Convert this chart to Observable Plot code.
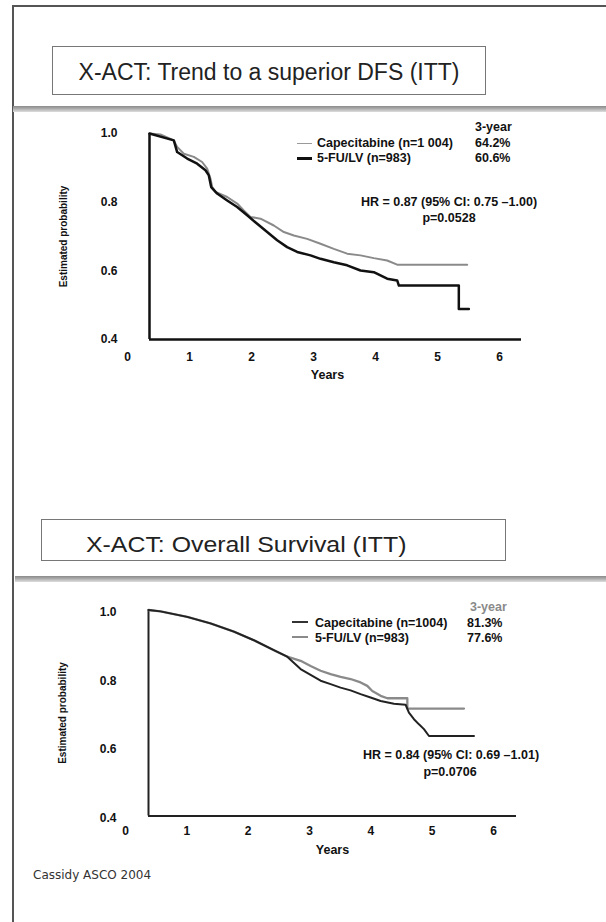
<!DOCTYPE html>
<html>
<head>
<meta charset="utf-8">
<script src="https://cdn.jsdelivr.net/npm/d3@7"></script>
<script src="https://cdn.jsdelivr.net/npm/@observablehq/plot@0.6"></script>
<style>
  html, body { margin: 0; padding: 0; background: #fff; }
  #page { position: relative; width: 606px; height: 922px; overflow: hidden; background: #fff;
          font-family: "Liberation Sans", Arial, sans-serif; color: #111; }
  .abs { position: absolute; }
  .t { position: absolute; white-space: nowrap; line-height: 1; }
  svg { position: absolute; left: 0; }
</style>
</head>
<body>
<div id="page"></div>
<script>
// ---------- DATA ----------
const xTicks = [0, 1, 2, 3, 4, 5, 6];
const yTicks = [0.4, 0.6, 0.8, 1.0];

// Chart 1: Disease-free survival
const dfsTitle = "X-ACT: Trend to a superior DFS (ITT)";
const dfsSeries = ["Capecitabine  (n=1 004)", "5-FU/LV (n=983)"];
const dfsThreeYear = ["64.2%", "60.6%"];
const dfsHR = "HR = 0.87 (95% CI: 0.75  \u20131.00)";
const dfsP = "p=0.0528";
const dfsCapT = [0, 0.177, 0.392, 0.446, 0.554, 0.715, 0.849, 0.930, 0.984, 1.011, 1.065, 1.253, 1.414, 1.521, 1.629, 1.790, 2.005, 2.167, 2.328, 2.543, 2.758, 2.973, 3.188, 3.403, 3.618, 3.833, 3.995, 5.124];
const dfsCapS = [1.0, 0.997, 0.980, 0.961, 0.941, 0.932, 0.917, 0.898, 0.868, 0.844, 0.830, 0.815, 0.796, 0.776, 0.757, 0.752, 0.732, 0.713, 0.703, 0.693, 0.679, 0.664, 0.650, 0.645, 0.637, 0.630, 0.618, 0.618];
const dfsFuT = [0, 0.392, 0.446, 0.608, 0.769, 0.903, 0.957, 0.995, 1.091, 1.253, 1.414, 1.575, 1.737, 1.898, 2.059, 2.220, 2.382, 2.597, 2.758, 2.973, 3.188, 3.403, 3.618, 3.833, 3.995, 4.022, 4.989, 4.989, 5.151];
const dfsFuS = [1.0, 0.980, 0.946, 0.927, 0.912, 0.893, 0.878, 0.844, 0.825, 0.805, 0.786, 0.762, 0.737, 0.713, 0.689, 0.669, 0.655, 0.645, 0.635, 0.625, 0.616, 0.601, 0.596, 0.577, 0.572, 0.557, 0.557, 0.489, 0.489];

// Chart 2: Overall survival
const osTitle = "X-ACT: Overall Survival (ITT)";
const osSeries = ["Capecitabine  (n=1004)", "5-FU/LV (n=983)"];
const osThreeYear = ["81.3%", "77.6%"];
const osHR = "HR = 0.84 (95% CI: 0.69 \u20131.01)";
const osP = "p=0.0706";
const osCapT = [0, 0.196, 0.631, 1.010, 1.392, 1.718, 2.044, 2.262, 2.480, 2.643, 2.806, 2.969, 3.132, 3.295, 3.458, 3.567, 3.649, 3.785, 3.894, 4.220, 4.220, 5.144];
const osCapS = [1.0, 0.996, 0.980, 0.961, 0.937, 0.912, 0.883, 0.864, 0.852, 0.837, 0.823, 0.813, 0.805, 0.799, 0.789, 0.779, 0.764, 0.750, 0.743, 0.743, 0.713, 0.713];
const osFuT = [0, 0.196, 0.631, 1.010, 1.392, 1.718, 2.044, 2.262, 2.480, 2.643, 2.806, 2.969, 3.132, 3.295, 3.458, 3.621, 3.785, 4.002, 4.192, 4.246, 4.328, 4.410, 4.491, 4.573, 5.307];
const osFuS = [1.0, 0.996, 0.980, 0.961, 0.937, 0.912, 0.883, 0.864, 0.828, 0.811, 0.794, 0.784, 0.774, 0.766, 0.755, 0.745, 0.735, 0.727, 0.724, 0.701, 0.682, 0.667, 0.653, 0.633, 0.633];

const yLabel = "Estimated probability";
const xLabel = "Years";
const threeYearHead = "3-year";
const caption = "Cassidy ASCO 2004";

// ---------- HELPERS ----------
const page = document.getElementById("page");
const zip = (ts, ss) => ts.map((t, i) => ({t, s: ss[i]}));

function box(left, top, width, height, css) {
  const d = document.createElement("div");
  d.className = "abs";
  d.style.cssText += `left:${left}px;top:${top}px;width:${width}px;height:${height}px;${css || ""}`;
  page.appendChild(d);
  return d;
}
function text(str, x, yc, size, opts = {}) {
  const d = document.createElement("div");
  d.className = "t";
  d.textContent = str;
  const anchor = opts.anchor || "start";
  let css = `top:${yc - 0.49 * size}px;font-size:${size}px;font-weight:${opts.weight || "bold"};color:${opts.color || "#111"};`;
  if (opts.family) css += `font-family:${opts.family};`;
  if (anchor === "middle") css += `left:${x}px;transform:translateX(-50%)${opts.sx ? ` scaleX(${opts.sx})` : ""};`;
  else css += `left:${x}px;${opts.sx ? `transform:scaleX(${opts.sx});transform-origin:0 50%;` : ""}`;
  d.style.cssText += css;
  page.appendChild(d);
  return d;
}

const plotStyle = {fontFamily: "'Liberation Sans', Arial, sans-serif", fontSize: "12px", color: "#111", background: "transparent", overflow: "visible"};

function kmChart({top, marginLeft, marginRight, marginTop, marginBottom, tickDx, yDy, xPad, capData, fuData, capStyle, fuStyle, axisColor, axisWidth, xLabelDx, xLabelDy}) {
  const chart = Plot.plot({
    width: 606, height: 300,
    marginLeft, marginRight, marginTop, marginBottom,
    x: {domain: [0, 6]},
    y: {domain: [0.4, 1.0]},
    style: plotStyle,
    marks: [
      Plot.axisY({ticks: yTicks, tickSize: 0, tickPadding: 32, tickFormat: d3.format(".1f"), fontWeight: "bold", fontSize: 12, dy: yDy, label: null}),
      Plot.axisX({ticks: xTicks, tickSize: 0, tickPadding: xPad, tickFormat: d3.format("d"), dx: tickDx, fontWeight: "bold", fontSize: 12, label: null}),
      Plot.ruleX([0], {y1: 0.4, y2: 1.0, stroke: axisColor, strokeWidth: axisWidth}),
      Plot.ruleY([0.4], {x1: 0, x2: 6, stroke: axisColor, strokeWidth: axisWidth}),
      Plot.line(capData, {x: "t", y: "s", ...capStyle}),
      Plot.line(fuData, {x: "t", y: "s", ...fuStyle}),
      Plot.text([xLabel], {text: d => d, frameAnchor: "bottom", textAnchor: "middle", lineAnchor: "middle", dx: xLabelDx, dy: xLabelDy, fontWeight: "bold", fontSize: 12.5}),
      Plot.text([yLabel], {text: d => d, frameAnchor: "left", textAnchor: "middle", lineAnchor: "middle", rotate: -90, dx: -86, fontWeight: "bold", fontSize: 10})
    ]
  });
  chart.style.top = top + "px";
  page.appendChild(chart);
}

// ---------- FRAME ----------
box(12, 5, 594, 2, "background:#555;");
box(12, 5, 2, 917, "background:#555;");
box(13, 106, 593, 6, "background:linear-gradient(#8a8a8a,#a8a8a8 40%,#dedede);");
box(15, 576, 591, 6, "background:linear-gradient(#8a8a8a,#a8a8a8 40%,#dedede);");

// Title boxes
box(52, 46, 432, 47, "border:1.5px solid #777;");
text(dfsTitle, 269, 72, 23, {anchor: "middle", weight: "normal", color: "#222"});
box(41, 519, 463, 40, "border:1.5px solid #777;");
text(osTitle, 86, 545, 22, {weight: "normal", color: "#222", sx: 1.13});

// ---------- CHART 1 ----------
kmChart({
  top: 100, marginLeft: 149, marginRight: 85, marginTop: 33, marginBottom: 61,
  tickDx: -22, yDy: 0, xPad: 13,
  capData: zip(dfsCapT, dfsCapS), fuData: zip(dfsFuT, dfsFuS),
  capStyle: {stroke: "#8a8a8a", strokeWidth: 2},
  fuStyle: {stroke: "#111", strokeWidth: 2.5},
  axisColor: "#111", axisWidth: 2.5, xLabelDx: -8, xLabelDy: 35
});
// legend chart 1
text(threeYearHead, 475, 127, 12.5);
box(297, 142.5, 15, 1.5, "background:#9a9a9a;");
box(297, 157.3, 15, 2.5, "background:#111;");
text(dfsSeries[0], 317, 143.3, 12.5);
text(dfsSeries[1], 317, 158.5, 12.5);
text(dfsThreeYear[0], 475, 143.3, 12.5);
text(dfsThreeYear[1], 475, 158.5, 12.5);
text(dfsHR, 449, 201.7, 12.5, {anchor: "middle"});
text(dfsP, 449, 218.3, 12.5, {anchor: "middle"});

// ---------- CHART 2 ----------
kmChart({
  top: 580, marginLeft: 148, marginRight: 90, marginTop: 29.5, marginBottom: 64.5,
  tickDx: -23, yDy: 2, xPad: 10,
  capData: zip(osCapT, osCapS), fuData: zip(osFuT, osFuS),
  capStyle: {stroke: "#8a8a8a", strokeWidth: 2.3},
  fuStyle: {stroke: "#222", strokeWidth: 2},
  axisColor: "#222", axisWidth: 2, xLabelDx: 0, xLabelDy: 33.5
});
text(threeYearHead, 470, 606.7, 12.5, {color: "#8a8a8a"});
box(292, 621, 16, 2, "background:#333;");
box(292, 636, 16, 2, "background:#8a8a8a;");
text(osSeries[0], 315, 623.3, 12.5);
text(osSeries[1], 315, 638.3, 12.5);
text(osThreeYear[0], 467, 623.3, 12.5);
text(osThreeYear[1], 467, 638.3, 12.5);
text(osHR, 451, 755, 12.5, {anchor: "middle"});
text(osP, 450, 771.7, 12.5, {anchor: "middle"});

// caption
text(caption, 33, 875, 12, {weight: "normal", color: "#333", family: "'DejaVu Sans', Verdana, sans-serif"});
</script>
</body>
</html>
